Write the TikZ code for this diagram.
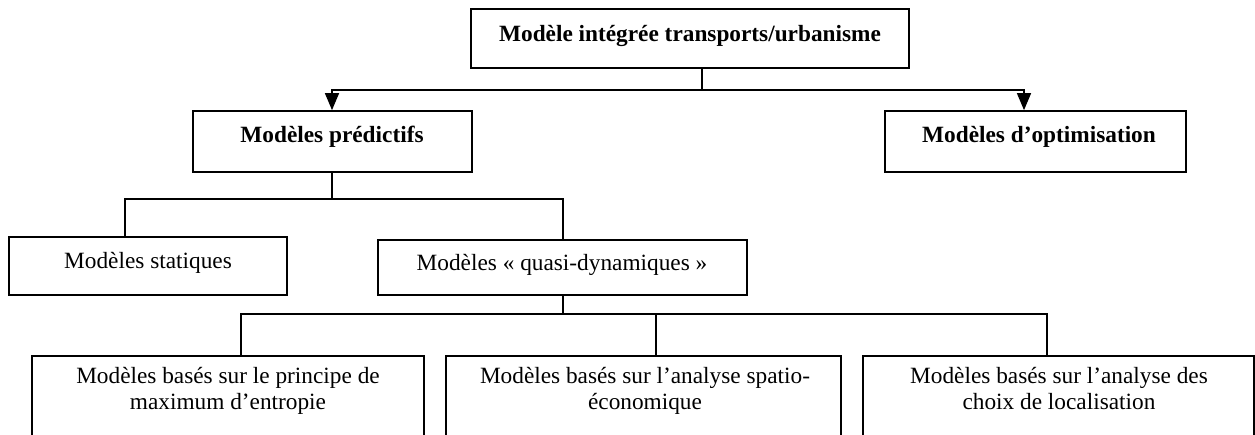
\documentclass[tikz,border=0pt]{standalone}
\usepackage{fontspec}
\setmainfont{Liberation Serif}
\usetikzlibrary{arrows.meta}
\begin{document}
\begin{tikzpicture}[x=1pt,y=-1pt,
  box/.style={draw=black, line width=1.7pt, rectangle, inner sep=0pt, fill=white},
  lbl/.style={inner sep=0pt, anchor=base, font=\fontsize{23.3}{26}\selectfont},
  blbl/.style={lbl, font=\fontsize{23.3}{26}\selectfont\bfseries},
  mlbl/.style={inner sep=0pt, anchor=north, align=center, font=\fontsize{23.3}{26}\selectfont},
  conn/.style={line width=1.4pt},
  arr/.style={conn, -{Triangle[width=14pt,length=17pt]}}]
\useasboundingbox (0,0) rectangle (1255,435);
\clip (0,0) rectangle (1255,435);
% boxes
\node[box, minimum width=438pt, minimum height=59pt] (top) at (690,38.5) {};
\node[box, minimum width=279pt, minimum height=61pt] (pred) at (332.5,141.5) {};
\node[box, minimum width=301pt, minimum height=61pt] (opt) at (1035.5,141.5) {};
\node[box, minimum width=278pt, minimum height=58pt] (stat) at (148,266) {};
\node[box, minimum width=369pt, minimum height=55pt] (quasi) at (562.5,267.5) {};
\node[box, minimum width=392pt, minimum height=89pt] (b1) at (228,400.5) {};
\node[box, minimum width=395pt, minimum height=89pt] (b2) at (643.5,400.5) {};
\node[box, minimum width=391pt, minimum height=89pt] (b3) at (1058.5,400.5) {};
% texts
\node[blbl] (ttop) at (690,42) {Modèle intégrée transports/urbanisme};
\node[blbl] (tpred) at (332,143) {Modèles prédictifs};
\node[blbl] (topt) at (1039,143) {Modèles d’optimisation};
\node[lbl] (tstat) at (148,269) {Modèles statiques};
\node[lbl] (tquasi) at (562,271) {Modèles « quasi-dynamiques »};
\node[mlbl] (tb1) at (228,367) {Modèles basés sur le principe de\\maximum d’entropie};
\node[mlbl] (tb2) at (645,367) {Modèles basés sur l’analyse spatio-\\économique};
\node[mlbl] (tb3) at (1059,367) {Modèles basés sur l’analyse des\\choix de localisation};
% connectors
\coordinate (j1) at (702,90);
\coordinate (j2) at (332,199);
\coordinate (j3) at (563,314);
\draw[conn] (top.south -| j1) -- (j1);
\draw[arr] (j1) -| (pred.north -| 332,0) ;
\draw[arr] (j1) -| (opt.north -| 1024,0);
\draw[conn] (pred.south -| j2) -- (j2);
\draw[conn] (j2) -| (stat.north -| 125,0);
\draw[conn] (j2) -| (quasi.north -| 563,0);
\draw[conn] (quasi.south -| j3) -- (j3);
\draw[conn] (j3) -| (b1.north -| 241,0);
\draw[conn] (j3) -| (b2.north -| 656,0);
\draw[conn] (j3) -| (b3.north -| 1047,0);
\end{tikzpicture}
\end{document}
